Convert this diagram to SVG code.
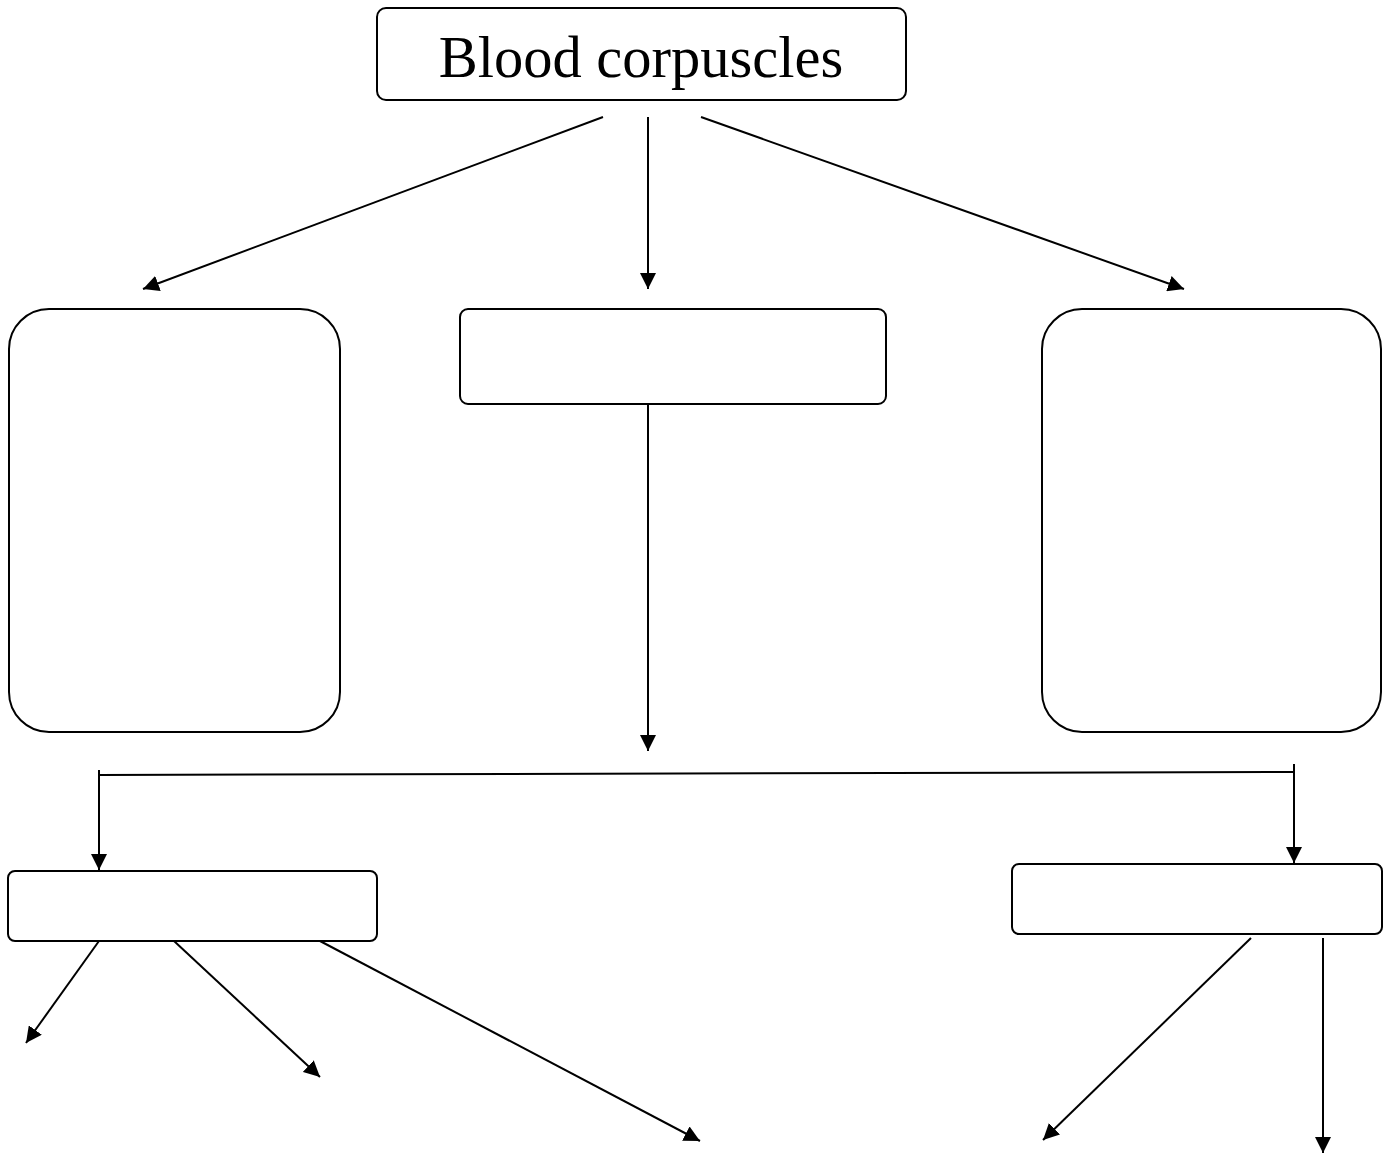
<svg xmlns="http://www.w3.org/2000/svg" width="1387" height="1154" viewBox="0 0 1387 1154">
<style>
.box{fill:#fff;stroke:#000;stroke-width:2}
.c{fill:none;stroke:#000;stroke-width:2}
.t{font-family:"Liberation Serif","Times New Roman",serif;font-size:58.5px;fill:#000}
</style>
<defs>
<marker id="ah" markerUnits="userSpaceOnUse" markerWidth="17" markerHeight="16" refX="16" refY="8" orient="auto">
<path d="M0,0 L16,8 L0,16 Z" fill="#000"/>
</marker>
</defs>
<rect width="1387" height="1154" fill="#fff"/>
<g id="connectors">
<line class="c" x1="603" y1="117" x2="143" y2="289" marker-end="url(#ah)"/>
<line class="c" x1="648" y1="117" x2="648" y2="289" marker-end="url(#ah)"/>
<line class="c" x1="701" y1="117" x2="1184" y2="289" marker-end="url(#ah)"/>
<line class="c" x1="648" y1="404" x2="648" y2="751" marker-end="url(#ah)"/>
<line class="c" x1="99" y1="775" x2="1294" y2="772"/>
<line class="c" x1="99" y1="770" x2="99" y2="870" marker-end="url(#ah)"/>
<line class="c" x1="1294" y1="764" x2="1294" y2="863" marker-end="url(#ah)"/>
<line class="c" x1="99" y1="941" x2="26" y2="1043" marker-end="url(#ah)"/>
<line class="c" x1="174" y1="941" x2="320" y2="1077" marker-end="url(#ah)"/>
<line class="c" x1="320" y1="941" x2="700" y2="1141" marker-end="url(#ah)"/>
<line class="c" x1="1251" y1="938" x2="1043" y2="1140" marker-end="url(#ah)"/>
<line class="c" x1="1323" y1="938" x2="1323" y2="1153" marker-end="url(#ah)"/>
</g>
<g id="root">
<rect class="box" x="377" y="8" width="529" height="92" rx="9"/>
<text class="t" x="641" y="77" text-anchor="middle">Blood corpuscles</text>
</g>
<g id="left-box"><rect class="box" x="9" y="309" width="331" height="423" rx="40"/></g>
<g id="middle-box"><rect class="box" x="460" y="309" width="426" height="95" rx="8"/></g>
<g id="right-box"><rect class="box" x="1042" y="309" width="339" height="423" rx="40"/></g>
<g id="bottom-left-box"><rect class="box" x="8" y="871" width="369" height="70" rx="7"/></g>
<g id="bottom-right-box"><rect class="box" x="1012" y="864" width="370" height="70" rx="7"/></g>
</svg>
